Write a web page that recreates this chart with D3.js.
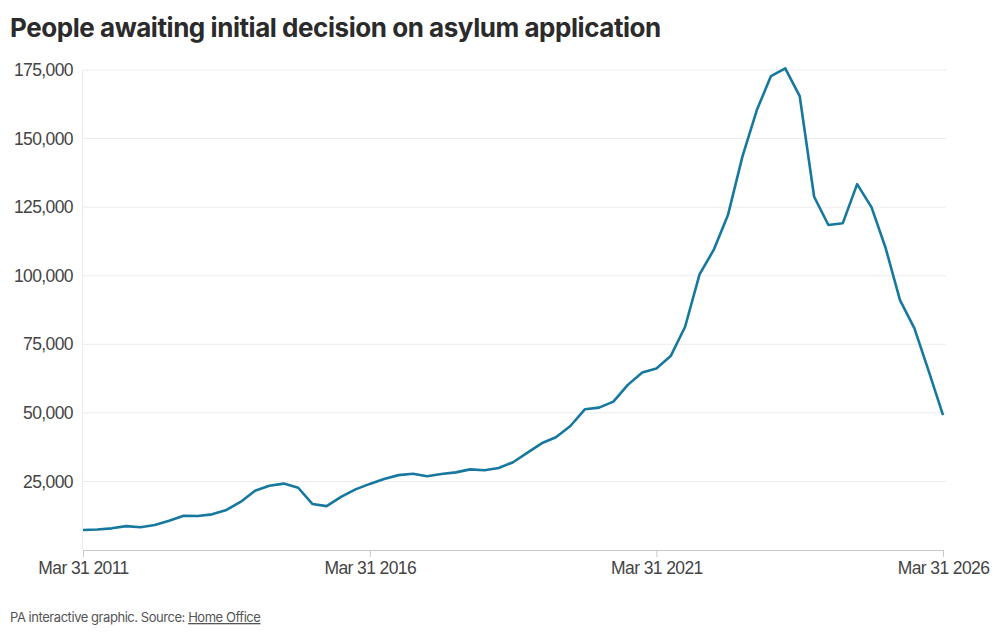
<!DOCTYPE html>
<html lang="en">
  <head>
    <meta charset="UTF-8" />
    <title>People awaiting initial decision on asylum application</title>
    <style>
      body { margin: 0; background: #fff; font-family: Inter, "Noto Sans", sans-serif; }
      .title { font-size: 26px; font-weight: 700; fill: #2b2b2b; letter-spacing: -0.45px; }
      .tick text { font-size: 17.5px; fill: #444; letter-spacing: -0.6px; }
      .grid line { stroke: #ececec; }
      .line { fill: none; stroke: #17789f; stroke-width: 2.6; stroke-linejoin: round; }
      .foot { font-size: 13px; fill: #555; letter-spacing: -0.45px; }
    </style>
  </head>
  <body>
    <svg id="chart" width="1000" height="637"></svg>
    <script src="https://cdn.jsdelivr.net/npm/d3@7"></script>
    <script>
      // quarterly values, Mar 2011 .. Mar 2026
      let startYear = 2011;
      let values = [
        7300, 7500, 7900, 8700, 8300, 9100, 10700, 12500, 12400, 13000,
        14600, 17600, 21600, 23400, 24200, 22700, 16800, 16000, 19400, 22100,
        24100, 25900, 27300, 27800, 26900, 27700, 28300, 29400, 29100, 29900,
        32000, 35500, 38900, 41100, 45200, 51300, 51900, 54100, 60200, 64700,
        66200, 70700, 81400, 100500, 109400, 122100, 143400, 160400, 172800, 175600,
        165500, 128800, 118500, 119100, 133400, 124900, 110000, 91100, 80800, 65000,
        49200
      ];
      let yTicks = [25000, 50000, 75000, 100000, 125000, 150000, 175000];
      let xTickYears = [2011, 2016, 2021, 2026];

      // quarter-end dates
      let quarterEnds = [[2, 31], [5, 30], [8, 30], [11, 31]];
      let data = values.map((v, i) => {
        let q = quarterEnds[i % 4];
        return { date: new Date(startYear + Math.floor(i / 4), q[0], q[1]), value: v };
      });

      let svg = d3.select("#chart");
      let mLeft = 83, mRight = 943, mTop = 70, mBottom = 550;

      let x = d3.scaleTime()
        .domain(d3.extent(data, d => d.date))
        .range([mLeft, mRight]);
      let y = d3.scaleLinear().domain([0, 175000]).range([mBottom, mTop]);

      svg.append("text").attr("class", "title").attr("x", 10).attr("y", 37)
        .text("People awaiting initial decision on asylum application");

      // gridlines
      svg.append("g").attr("class", "grid")
        .selectAll("line").data(yTicks).join("line")
        .attr("x1", mLeft).attr("x2", mRight + 3)
        .attr("y1", d => y(d)).attr("y2", d => y(d));
      svg.append("line").attr("x1", mLeft - 0.5).attr("x2", mLeft - 0.5)
        .attr("y1", mTop).attr("y2", mBottom).attr("stroke", "#ececec");

      // y axis labels
      let yAxis = svg.append("g").attr("transform", `translate(${mLeft},0)`)
        .call(d3.axisLeft(y).tickValues(yTicks).tickSize(0).tickPadding(10)
          .tickFormat(d3.format(",")));
      yAxis.select(".domain").remove();
      yAxis.selectAll(".tick text").attr("font-family", null).attr("font-size", null);

      // x axis
      let fmt = d3.timeFormat("%b %d %Y");
      let xAxis = svg.append("g").attr("transform", `translate(0,${mBottom})`)
        .call(d3.axisBottom(x)
          .tickValues(xTickYears.map(yr => new Date(yr, 2, 31)))
          .tickSize(7).tickPadding(5).tickFormat(fmt));
      xAxis.select(".domain").attr("stroke", "#c8c8c8").attr("d", `M${mLeft},0.5H${mRight + 1}`);
      xAxis.selectAll(".tick line").attr("stroke", "#c8c8c8");
      xAxis.selectAll(".tick text").attr("font-family", null).attr("font-size", null);

      // the line
      let line = d3.line().x(d => x(d.date)).y(d => y(d.value));
      svg.append("path").datum(data).attr("class", "line").attr("d", line);

      // footer
      let foot = svg.append("text").attr("class", "foot").attr("x", 10).attr("y", 622);
      foot.append("tspan").text("PA interactive graphic. Source: ");
      foot.append("tspan").attr("text-decoration", "underline").text("Home Office");
    </script>
  </body>
</html>
